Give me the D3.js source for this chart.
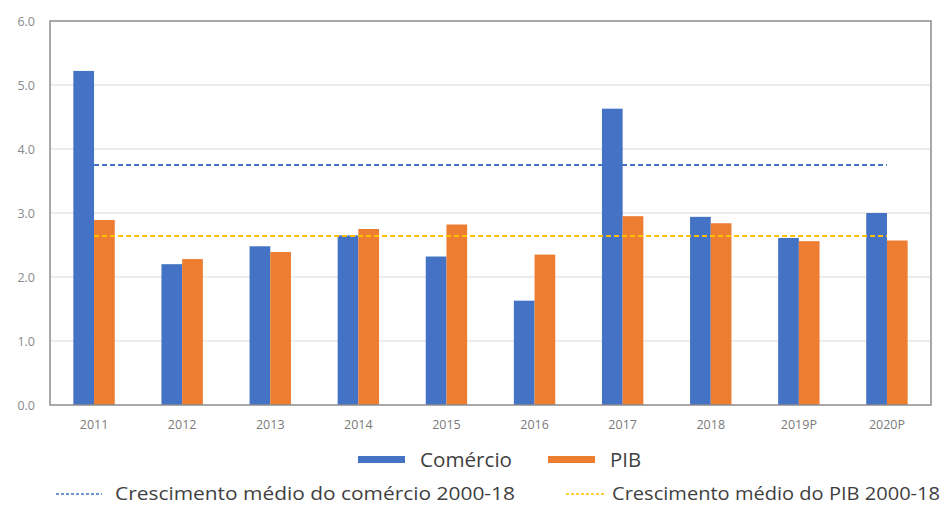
<!DOCTYPE html>
<html>
<head>
<meta charset="utf-8">
<script src="https://cdn.jsdelivr.net/npm/d3@7/dist/d3.min.js"></script>
<style>
  html, body { margin: 0; padding: 0; background: #fff; }
  svg { display: block; }
</style>
</head>
<body>
<svg id="chart" width="946" height="506"></svg>
<script>
// Growth rates (%), trade vs GDP
const years = ["2011", "2012", "2013", "2014", "2015", "2016", "2017", "2018", "2019P", "2020P"];
const comercio = [5.22, 2.20, 2.48, 2.65, 2.32, 1.63, 4.63, 2.94, 2.61, 3.00];
const pib = [2.89, 2.28, 2.39, 2.75, 2.82, 2.35, 2.95, 2.84, 2.56, 2.57];
const mediaComercio = 3.75;
const mediaPib = 2.64;
const yTicks = [0, 1, 2, 3, 4, 5, 6];
const seriesNames = ["Comércio", "PIB"];
const avgNames = ["Crescimento médio do comércio 2000-18", "Crescimento médio do PIB 2000-18"];

const BLUE = "#4472C4", ORANGE = "#ED7D31", GOLD = "#FFC000";
const FONT = "'Open Sans', 'Liberation Sans', sans-serif";

const svg = d3.select("#chart");
const plot = { left: 50, right: 931, top: 21, bottom: 405 };

const x = d3.scaleBand().domain(years).range([plot.left, plot.right]).paddingInner(0.53).paddingOuter(0.265);
const xCenter = d3.scaleBand().domain(years).range([plot.left, plot.right]);
const xSub = d3.scaleBand().domain(seriesNames).range([0, x.bandwidth()]);
const y = d3.scaleLinear().domain([0, 6]).range([plot.bottom, plot.top]);

// horizontal gridlines
svg.append("g")
  .selectAll("line")
  .data(yTicks.filter(t => t > 0 && t < 6))
  .join("line")
  .attr("x1", plot.left).attr("x2", plot.right)
  .attr("y1", d => y(d)).attr("y2", d => y(d))
  .attr("stroke", "#d9d9d9").attr("stroke-width", 1.2);

// y axis labels
const yAxis = d3.axisLeft(y).tickValues(yTicks).tickFormat(d3.format(".1f")).tickSize(0).tickPadding(15);
svg.append("g")
  .attr("transform", `translate(${plot.left},0)`)
  .call(yAxis)
  .call(g => g.select(".domain").remove())
  .call(g => g.selectAll("text").attr("fill", "#8a8a8a").style("font-family", FONT).style("font-size", "12.5px"));

// bars
const groups = svg.append("g")
  .selectAll("g")
  .data(years.map((yr, i) => ({ yr, vals: [comercio[i], pib[i]] })))
  .join("g")
  .attr("transform", d => `translate(${x(d.yr)},0)`);

groups.selectAll("rect")
  .data(d => d.vals.map((v, j) => ({ name: seriesNames[j], v })))
  .join("rect")
  .attr("x", d => xSub(d.name))
  .attr("width", xSub.bandwidth())
  .attr("y", d => y(d.v))
  .attr("height", d => y(0) - y(d.v))
  .attr("fill", d => d.name === "Comércio" ? BLUE : ORANGE);

// average lines
const first = xCenter(years[0]) + xCenter.bandwidth() / 2;
const last = xCenter(years[years.length - 1]) + xCenter.bandwidth() / 2;
[[mediaComercio, BLUE], [mediaPib, GOLD]].forEach(([v, c]) => {
  svg.append("line")
    .attr("x1", first).attr("x2", last)
    .attr("y1", y(v)).attr("y2", y(v))
    .attr("stroke", c).attr("stroke-width", 2)
    .attr("stroke-dasharray", "5,3");
});

// plot frame
svg.append("rect")
  .attr("x", plot.left).attr("y", plot.top)
  .attr("width", plot.right - plot.left).attr("height", plot.bottom - plot.top)
  .attr("fill", "none").attr("stroke", "#8c8c8c").attr("stroke-width", 1.5);

// x axis labels
const xAxis = d3.axisBottom(xCenter).tickSize(0).tickPadding(15);
svg.append("g")
  .attr("transform", `translate(0,${plot.bottom})`)
  .call(xAxis)
  .call(g => g.select(".domain").remove())
  .call(g => g.selectAll("text").attr("fill", "#7a7a7a").style("font-family", FONT).style("font-size", "12.5px"));

// legend
const legend = svg.append("g").style("font-family", FONT).attr("fill", "#3f3f3f");
const row1 = [
  { label: seriesNames[0], c: BLUE, x: 358, tx: 420, len: 92 },
  { label: seriesNames[1], c: ORANGE, x: 548, tx: 610, len: 31 }
];
row1.forEach(d => {
  legend.append("rect").attr("x", d.x).attr("y", 456).attr("width", 47).attr("height", 7).attr("fill", d.c);
  legend.append("text").attr("x", d.tx).attr("y", 467).style("font-size", "20px")
    .attr("textLength", d.len).attr("lengthAdjust", "spacingAndGlyphs").text(d.label);
});
const row2 = [
  { label: avgNames[0], c: BLUE, x: 56, w: 46, tx: 115, len: 400 },
  { label: avgNames[1], c: GOLD, x: 566, w: 40, tx: 612, len: 328 }
];
row2.forEach(d => {
  legend.append("line").attr("x1", d.x).attr("x2", d.x + d.w).attr("y1", 494).attr("y2", 494)
    .attr("stroke", d.c).attr("stroke-width", 1.5).attr("stroke-dasharray", "3,2");
  legend.append("text").attr("x", d.tx).attr("y", 500).style("font-size", "19px")
    .attr("textLength", d.len).attr("lengthAdjust", "spacingAndGlyphs").text(d.label);
});
</script>
</body>
</html>
